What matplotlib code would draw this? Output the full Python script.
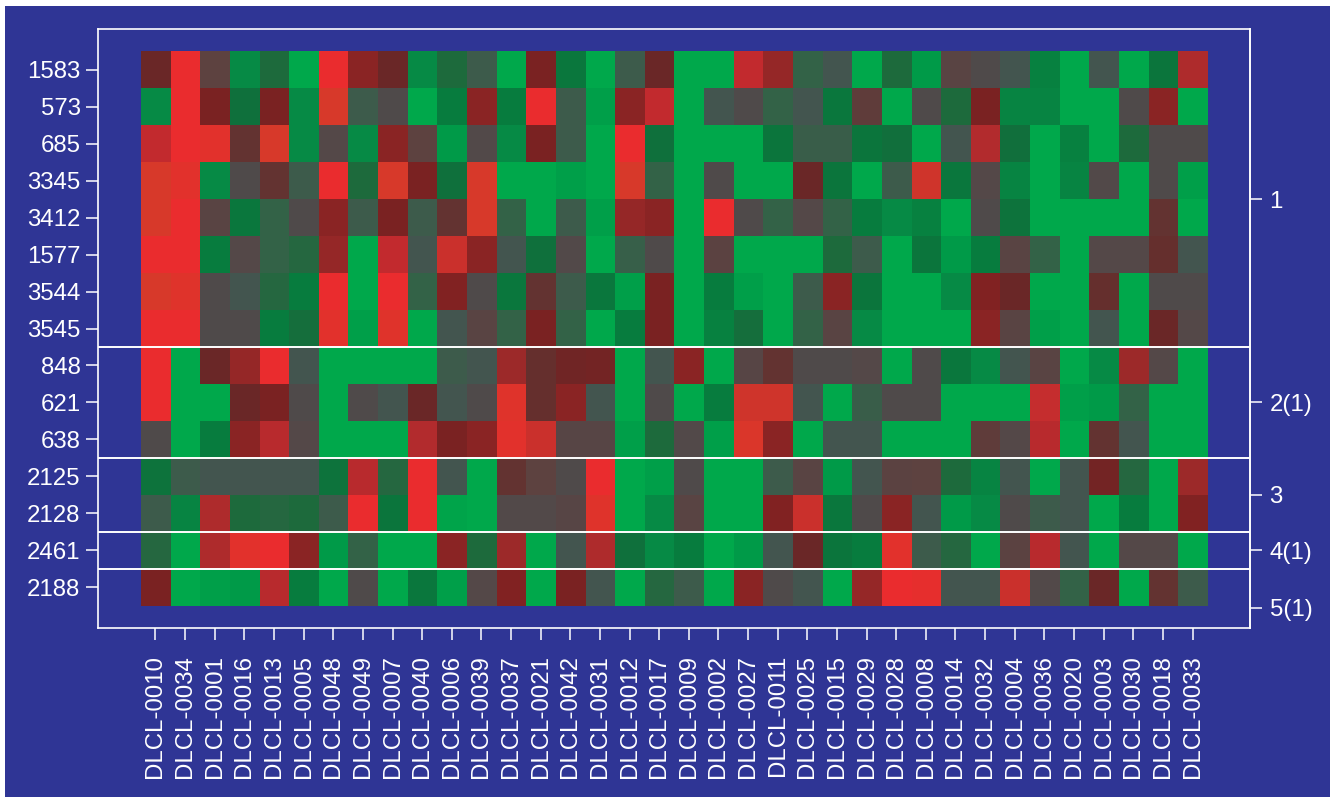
# -*- coding: utf-8 -*-
"""DLCL 발현 히트맵 (유전자 그룹별 구분선 포함)"""

import matplotlib
matplotlib.use("Agg")
import matplotlib.pyplot as plt
import matplotlib.patches as patches
from matplotlib.colors import LinearSegmentedColormap

# 데이터
genes = ["1583", "573", "685", "3345", "3412", "1577", "3544", "3545",
         "848", "621", "638", "2125", "2128", "2461", "2188"]

samples = ["DLCL-0010", "DLCL-0034", "DLCL-0001", "DLCL-0016", "DLCL-0013",
           "DLCL-0005", "DLCL-0048", "DLCL-0049", "DLCL-0007", "DLCL-0040",
           "DLCL-0006", "DLCL-0039", "DLCL-0037", "DLCL-0021", "DLCL-0042",
           "DLCL-0031", "DLCL-0012", "DLCL-0017", "DLCL-0009", "DLCL-0002",
           "DLCL-0027", "DLCL-0011", "DLCL-0025", "DLCL-0015", "DLCL-0029",
           "DLCL-0028", "DLCL-0008", "DLCL-0014", "DLCL-0032", "DLCL-0004",
           "DLCL-0036", "DLCL-0020", "DLCL-0003", "DLCL-0030", "DLCL-0018",
           "DLCL-0033"]

group_labels = ["1", "2(1)", "3", "4(1)", "5(1)"]
group_sizes = [8, 3, 2, 1, 1]

expression = [
    [2, 5, 1, -3.5, -2, -5, 5, 3, 2, -3.5, -2, -1, -5, 2.5, -2.8, -5, -1, 2,
     -5, -5, 4, 3.2, -1.5, -0.8, -5, -2, -4.2, 0.8, 0, -0.8, -3.2, -5, -0.8, -5, -2.7, 3.6],
    [-3.5, 5, 2.5, -2.5, 2.5, -3.5, 4.5, -1, 0, -5, -3, 3, -3, 5, -1, -4.5, 3, 4,
     -5, -0.8, 0, -1.5, -0.8, -2.8, 1.2, -5, 0, -2, 2.5, -3.3, -3.3, -5, -5, 0, 3, -5],
    [4, 5, 4.8, 1.5, 4.5, -3.5, 0.5, -3.5, 3, 1, -4.2, 0.3, -3.5, 2.5, -1, -5, 5, -2.5,
     -5, -5, -5, -2.7, -1.2, -1.2, -2.7, -2.4, -5, -0.8, 3.7, -2.4, -5, -3.2, -5, -2, 0, 0],
    [4.5, 4.8, -3.5, 0, 1.5, -1, 5, -2, 4.5, 2.5, -2.5, 4.5, -5, -5, -4.5, -5, 4.5, -1.5,
     -5, 0, -5, -5, 2, -2.7, -5, -1, 4.3, -2.8, 0.5, -3.3, -5, -3.3, 0.3, -5, 0, -4.5],
    [4.5, 5, 0.8, -2.8, -1.5, 0, 3, -1, 2.5, -1, 1.5, 4.5, -1.5, -5, -1, -4.5, 3.2, 3,
     -5, 5, 0, -1.5, 0.5, -1.5, -3, -3.5, -3.2, -5, 0, -2.6, -5, -5, -5, -5, 1.5, -5],
    [5, 5, -3, 0.5, -1.5, -1.8, 3.2, -5, 4, -0.8, 4.2, 3, -0.8, -2.5, 0.3, -5, -1.3, 0,
     -5, 0.9, -5, -5, -5, -2, -1, -5, -2.7, -4.2, -3, 0.8, -1.5, -5, 0.5, 0.5, 1.7, -0.8],
    [4.5, 4.7, 0, -0.8, -1.8, -3, 5, -5, 5, -1.5, 2.7, 0, -2.8, 1.5, -1, -2.8, -4.5, 2.5,
     -5, -3, -4.5, -5, -1, 3, -2.7, -5, -5, -3.5, 2.7, 2, -5, -5, 1.7, -5, 0, 0],
    [5, 5, 0, 0, -3, -2.3, 4.8, -4.5, 4.7, -5, -0.8, 0.8, -1.5, 2.5, -1.5, -5, -3, 2.5,
     -5, -3.2, -2.3, -5, -1.5, 0.8, -3.5, -5, -5, -5, 3, 0.8, -4.5, -5, -0.8, -5, 2, 0.5],
    [5, -5, 2, 3.2, 5, -0.8, -5, -5, -5, -5, -1, -0.8, 3.3, 1.7, 2.2, 2.3, -5, -0.8,
     3, -5, 0.7, 1.5, 0, 0, 0.5, -5, 0, -2.8, -3.5, -0.8, 0.8, -5, -3.5, 3.3, 0.5, -5],
    [5, -5, -5, 2, 2.5, 0, -5, 0, -0.8, 2, -0.8, 0, 4.7, 1.7, 3, -0.8, -5, 0,
     -5, -3, 4.3, 4.3, -0.8, -5, -1.2, 0, 0, -5, -5, -5, 4.1, -4.5, -4.2, -1.5, -5, -5],
    [0, -5, -3, 3, 3.8, 0.5, -5, -5, -5, 3.7, 2.5, 3, 4.8, 4.2, 0.7, 0.7, -4.5, -2,
     0.3, -4.5, 4.6, 3, -5, -0.8, -0.8, -5, -5, -5, 1.2, 0.5, 3.8, -5, 1.5, -0.8, -5, -5],
    [-2.6, -1, -0.8, -0.8, -0.8, -0.8, -2.6, 3.8, -1.8, 5, -0.8, -5, 1.5, 1, 0, 5, -5, -4.5,
     0, -5, -5, -1, 0.8, -4.2, -0.8, 0.9, 1, -2, -3.3, -0.8, -5, -0.8, 2.3, -1.8, -5, 3.3],
    [-1, -3.3, 3.6, -2, -1.8, -2, -1, 5, -2.7, 5, -4.8, -5, 0.3, 0.3, 0.7, 4.7, -5, -3.5,
     0.8, -5, -5, 2.7, 4.2, -2.8, 0, 3, -0.8, -4.2, -3.5, 0, -1, -0.8, -5, -3, -5, 2.7],
    [-1.8, -5, 3.6, 4.8, 5, 3, -4.2, -1.5, -5, -5, 3, -2, 3.3, -5, -0.8, 3.6, -2.5, -3.5,
     -3, -5, -4.2, -0.8, 2, -2.7, -3, 4.8, -1, -1.8, -5, 0.9, 3.8, -0.8, -5, 0.5, 0.5, -5],
    [2.5, -5, -4.5, -4.2, 3.8, -3, -5, 0, -5, -2.8, -4.5, 0.5, 2.7, -5, 2.5, -0.8, -5, -1.8,
     -1, -5, 3, 0, -0.8, -5, 3.2, 5, 4.9, -0.8, -0.8, 4.2, 0.3, -1.5, 2, -5, 1.5, -1],
]

# 스타일
BG = "#2f3595"
FG = "white"
FONT = ["Liberation Sans", "DejaVu Sans"]
FS = 17.3

VMIN, VMAX = -5, 5
cmap_stops = [
    (-5, "#00a84b"), (-4.2, "#009a48"), (-3.5, "#078a45"), (-3, "#077c3e"),
    (-2.5, "#0f713c"), (-2, "#1e6a3c"), (-1.5, "#346248"), (-1, "#3d5b4b"),
    (-0.8, "#445550"), (0, "#4f4b4b"), (0.5, "#554848"), (1, "#5d4240"),
    (1.5, "#633432"), (2, "#6a2828"), (2.5, "#7a2222"), (3, "#8a2424"),
    (3.5, "#a82c2c"), (4, "#c22a2f"), (4.5, "#d63a2a"), (5, "#ea2c2e"),
]
cmap = LinearSegmentedColormap.from_list(
    "rg", [((v - VMIN) / (VMAX - VMIN), c) for v, c in cmap_stops])

plt.rcParams["font.family"] = FONT

W, H = 1335, 801
fig = plt.figure(figsize=(W / 100, H / 100), dpi=100, facecolor="white")
# 바깥 흰 테두리 안쪽의 파란 배경
bg_rect = patches.Rectangle((5 / W, 4 / H), (W - 10) / W, (H - 10) / H,
                            transform=fig.transFigure, facecolor=BG,
                            edgecolor="none", zorder=-10)
fig.add_artist(bg_rect)

ax = fig.add_axes([98 / W, 1 - 628 / H, (1250 - 98) / W, (628 - 29) / H])
ax.set_facecolor(BG)
ax.set_zorder(1)

n_rows, n_cols = len(genes), len(samples)
ax.imshow(expression, cmap=cmap, vmin=VMIN, vmax=VMAX, aspect="auto",
          interpolation="nearest",
          extent=(-0.5, n_cols - 0.5, n_rows - 0.5, -0.5))

# R 스타일 4% 여백
xpad = n_cols * 0.04
ypad = n_rows * 0.04
ax.set_xlim(-0.5 - xpad, n_cols - 0.5 + xpad)
ax.set_ylim(n_rows - 0.5 + ypad, -0.5 - ypad)

# 그룹 구분선
bounds = []
acc = 0
for s in group_sizes[:-1]:
    acc += s
    bounds.append(acc - 0.5)
for b in bounds:
    ax.axhline(b, color=FG, linewidth=1.4)

for sp in ax.spines.values():
    sp.set_color(FG)
    sp.set_linewidth(1.2)

ax.set_xticks(range(n_cols))
ax.set_xticklabels(samples, rotation=90, fontsize=FS, color=FG)
ax.set_yticks(range(n_rows))
ax.set_yticklabels(genes, fontsize=FS, color=FG)
ax.tick_params(axis="x", colors=FG, length=8.6, width=1.1, pad=11)
ax.tick_params(axis="y", colors=FG, length=8.6, width=1.1, pad=4)

# 오른쪽 그룹 라벨
centers = []
start = 0
for s in group_sizes:
    centers.append(start + (s - 1) / 2)
    start += s
centers[-1] += 0.55
sec = ax.secondary_yaxis("right")
sec.set_yticks(centers)
sec.set_yticklabels(group_labels, fontsize=FS, color=FG)
sec.tick_params(colors=FG, length=8.6, width=1.1, pad=5.5)
sec.spines["right"].set_color(FG)
sec.spines["right"].set_linewidth(1.2)

fig.savefig("out.png", dpi=100, facecolor="white")
